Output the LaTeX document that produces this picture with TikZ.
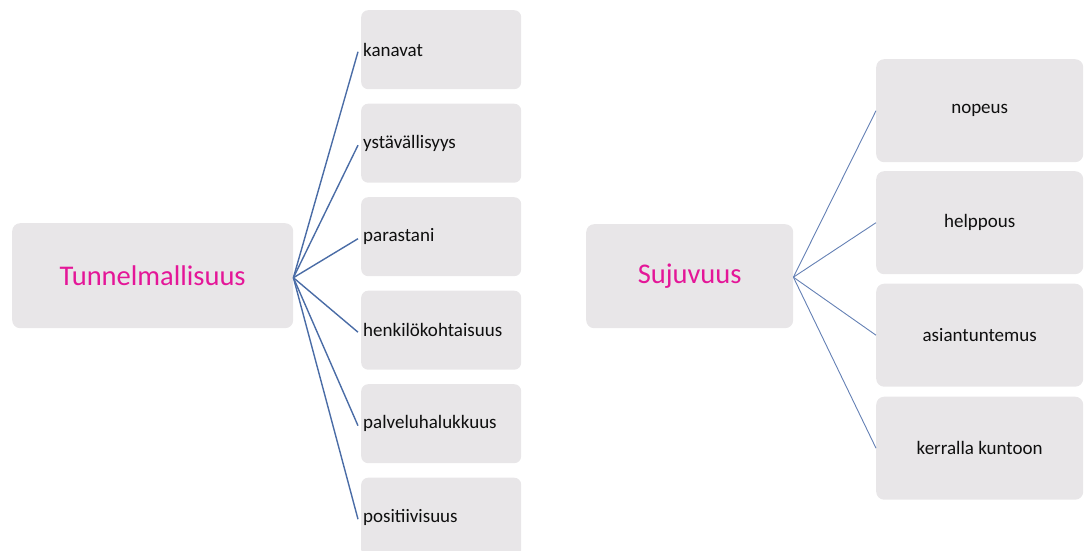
\documentclass[tikz,border=0pt]{standalone}
\usepackage{fontspec}
\setmainfont{Carlito}
\definecolor{boxfill}{RGB}{232,230,232}
\definecolor{rootpink}{RGB}{228,22,152}
\definecolor{linkblue}{RGB}{74,108,166}
\definecolor{linkblue2}{RGB}{100,128,180}
\definecolor{txt}{RGB}{15,15,15}
\tikzset{
  rootbox/.style={fill=boxfill, rounded corners=8pt, anchor=north west, inner sep=0pt,
    text=rootpink, font=\fontsize{28.5}{32}\selectfont},
  leftbox/.style={fill=boxfill, rounded corners=7pt, anchor=north west, inner xsep=2pt, inner ysep=0pt,
    text width=156pt, minimum height=79pt, align=left, text=txt, font=\fontsize{19}{22}\selectfont},
  rightbox/.style={fill=boxfill, rounded corners=8pt, anchor=north west, inner sep=0pt,
    minimum width=207pt, minimum height=103pt, align=center, text=txt, font=\fontsize{19}{22}\selectfont},
  leftlink/.style={draw=linkblue, line width=1.4pt},
  rightlink/.style={draw=linkblue2, line width=0.9pt}
}
\begin{document}
\begin{tikzpicture}[x=1pt,y=-1pt]
\useasboundingbox (0,0) rectangle (1084,551);
\clip (0,0) rectangle (1084,551);
% left group
\node[rootbox, minimum width=281pt, minimum height=105pt] (t) at (12,223) {Tunnelmallisuus};
\node[leftbox] (c1) at (361,10) {kanavat};
\node[leftbox] (c2) at (361,103.5) {ystävällisyys};
\node[leftbox] (c3) at (361,197) {parastani};
\node[leftbox] (c4) at (361,290.5) {henkilökohtaisuus};
\node[leftbox] (c5) at (361,384) {palveluhalukkuus};
\node[leftbox] (c6) at (361,477.5) {positiivisuus};
\coordinate (tp) at ([yshift=-2pt]t.east);
\foreach \i in {1,...,6}{
  \coordinate (e\i) at ([xshift=-3pt,yshift=-2pt]c\i.west);
  \draw[leftlink] (tp) -- (e\i);
}
% right group
\node[rootbox, minimum width=207pt, minimum height=104pt] (s) at (586,224) {Sujuvuus};
\node[rightbox] (r1) at (876,59) {nopeus};
\node[rightbox] (r2) at (876,171) {helppous};
\node[rightbox] (r3) at (876,283.5) {asiantuntemus};
\node[rightbox] (r4) at (876,396.5) {kerralla kuntoon};
\coordinate (sp) at ([yshift=-1pt]s.east);
\foreach \i in {1,...,4}{
  \draw[rightlink] (sp) -- (r\i.west);
}
\end{tikzpicture}
\end{document}
